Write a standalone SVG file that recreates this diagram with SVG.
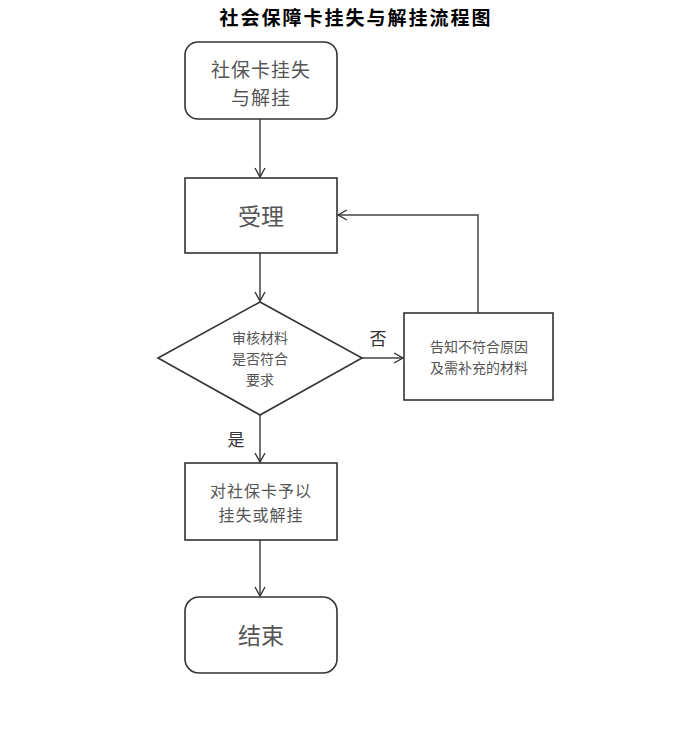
<svg xmlns="http://www.w3.org/2000/svg" width="685" height="737" viewBox="0 0 685 737">
<defs>
<marker id="arr" markerWidth="12" markerHeight="12" refX="10" refY="6" orient="auto" markerUnits="userSpaceOnUse">
<path d="M1,1 L10,6 L1,11" fill="none" stroke="#333" stroke-width="1.4"/>
</marker>
<style>
.shape{fill:#fff;stroke:#333;stroke-width:1.6}
.t{font-family:"Noto Sans CJK SC","Noto Sans",sans-serif;fill:#555;text-anchor:middle;dominant-baseline:central}
.edge{fill:none;stroke:#444;stroke-width:1.5;marker-end:url(#arr)}
.lbl{font-family:"Noto Sans CJK SC","Noto Sans",sans-serif;fill:#333;font-size:17px;text-anchor:middle;dominant-baseline:central}
</style>
</defs>
<rect width="685" height="737" fill="#fff"/>
<text x="356" y="16" font-family="Noto Sans CJK SC, sans-serif" font-weight="bold" font-size="19" letter-spacing="2" text-anchor="middle" dominant-baseline="central" fill="#000">社会保障卡挂失与解挂流程图</text>
<g id="connectors">
<line class="edge" x1="260" y1="119" x2="260" y2="177"/>
<line class="edge" x1="260" y1="253" x2="260" y2="301"/>
<line class="edge" x1="362" y1="358" x2="403" y2="358"/>
<polyline class="edge" points="478,313 478,215 338,215"/>
<line class="edge" x1="260" y1="415" x2="260" y2="462"/>
<line class="edge" x1="260" y1="540" x2="260" y2="596"/>
<text class="lbl" x="378" y="337">否</text>
<text class="lbl" x="236" y="438">是</text>
</g>
<g id="start">
<rect class="shape" x="185" y="42" width="152" height="77" rx="13"/>
<text class="t" x="261" y="68" font-size="19" letter-spacing="1">社保卡挂失</text>
<text class="t" x="261" y="96" font-size="19" letter-spacing="1">与解挂</text>
</g>
<g id="accept">
<rect class="shape" x="185" y="178" width="152" height="75"/>
<text class="t" x="261" y="215" font-size="23">受理</text>
</g>
<g id="check">
<polygon class="shape" points="260,302 362,358 260,415 158,358"/>
<text class="t" x="260" y="337" font-size="14">审核材料</text>
<text class="t" x="260" y="358" font-size="14">是否符合</text>
<text class="t" x="260" y="379" font-size="14">要求</text>
</g>
<g id="notify">
<rect class="shape" x="404" y="313" width="149" height="87"/>
<text class="t" x="479" y="346" font-size="14">告知不符合原因</text>
<text class="t" x="479" y="367" font-size="14">及需补充的材料</text>
</g>
<g id="process">
<rect class="shape" x="185" y="463" width="152" height="77"/>
<text class="t" x="261" y="490" font-size="16" letter-spacing="1">对社保卡予以</text>
<text class="t" x="261" y="514" font-size="16" letter-spacing="1">挂失或解挂</text>
</g>
<g id="end">
<rect class="shape" x="185" y="597" width="152" height="76" rx="14"/>
<text class="t" x="261" y="634" font-size="23">结束</text>
</g>
</svg>
